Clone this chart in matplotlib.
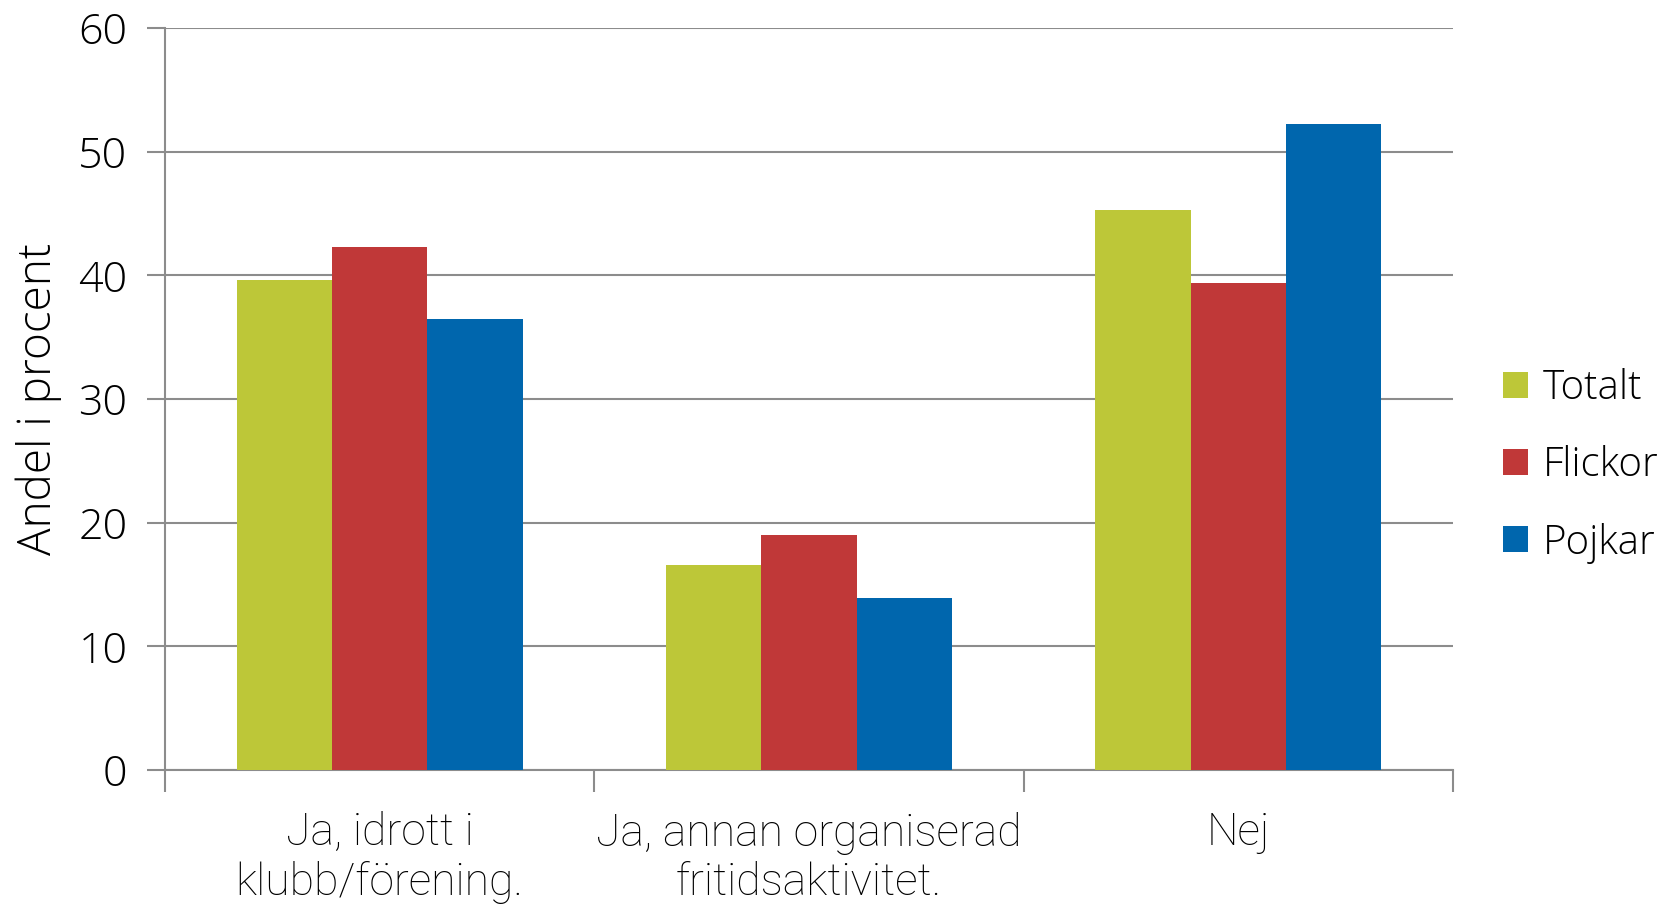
import numpy as np
import matplotlib.pyplot as plt

categories = ["Ja, idrott i\nklubb/förening.", "Ja, annan organiserad\nfritidsaktivitet.", "Nej"]
series = ["Totalt", "Flickor", "Pojkar"]
totalt = [39.6, 16.6, 45.3]
flickor = [42.3, 19.0, 39.4]
pojkar = [36.5, 13.9, 52.2]
colors = ["#BDC738", "#C03838", "#0066AD"]

plt.rcParams["font.family"] = ["Open Sans", "DejaVu Sans"]

fig = plt.figure(figsize=(16.71, 9.13), dpi=100)
ax = fig.add_axes([165 / 1671, 1 - 770 / 913, (1453 - 165) / 1671, (770 - 28) / 913])

x = np.arange(len(categories))
w = 1 / 4.5
for i, (vals, name) in enumerate(zip([totalt, flickor, pojkar], series)):
    ax.bar(x + (i - 1) * w, vals, w, color=colors[i], label=name, zorder=3)

ax.set_xlim(-0.5, len(categories) - 0.5)
ax.set_ylim(0, 60)
ax.set_yticks(range(0, 61, 10))
ax.grid(axis="y", color="#8c8c8c", linewidth=1.5, zorder=0)
ax.set_xticks(np.arange(-0.5, len(categories), 1))
ax.set_xticklabels([])
ax.set_xticks(x, minor=True)
ax.set_xticklabels(categories, minor=True, fontsize=32, family=["Roboto", "DejaVu Sans"],
                   fontweight="light", linespacing=1.2)
ax.tick_params(axis="x", which="minor", length=0, pad=30)
ax.tick_params(axis="x", which="major", length=16, width=1.5, color="#8c8c8c")
ax.tick_params(axis="y", length=13, width=1.5, color="#8c8c8c", labelsize=31, pad=14)
for t in ax.get_yticklabels():
    t.set_fontweight("light")

for s in ["top", "right"]:
    ax.spines[s].set_visible(False)
for s in ["left", "bottom"]:
    ax.spines[s].set_color("#8c8c8c")
    ax.spines[s].set_linewidth(1.5)

ax.set_ylabel("Andel i procent", fontsize=33, fontweight="light", labelpad=12)

ax.legend(loc="center left", bbox_to_anchor=(1.0, 0.41), frameon=False,
          prop={"size": 29, "weight": "light"},
          handlelength=0.62, handleheight=0.62, handletextpad=0.35, labelspacing=0.9,
          borderpad=0.3, borderaxespad=0.95)

fig.savefig("out.png", dpi=100)
